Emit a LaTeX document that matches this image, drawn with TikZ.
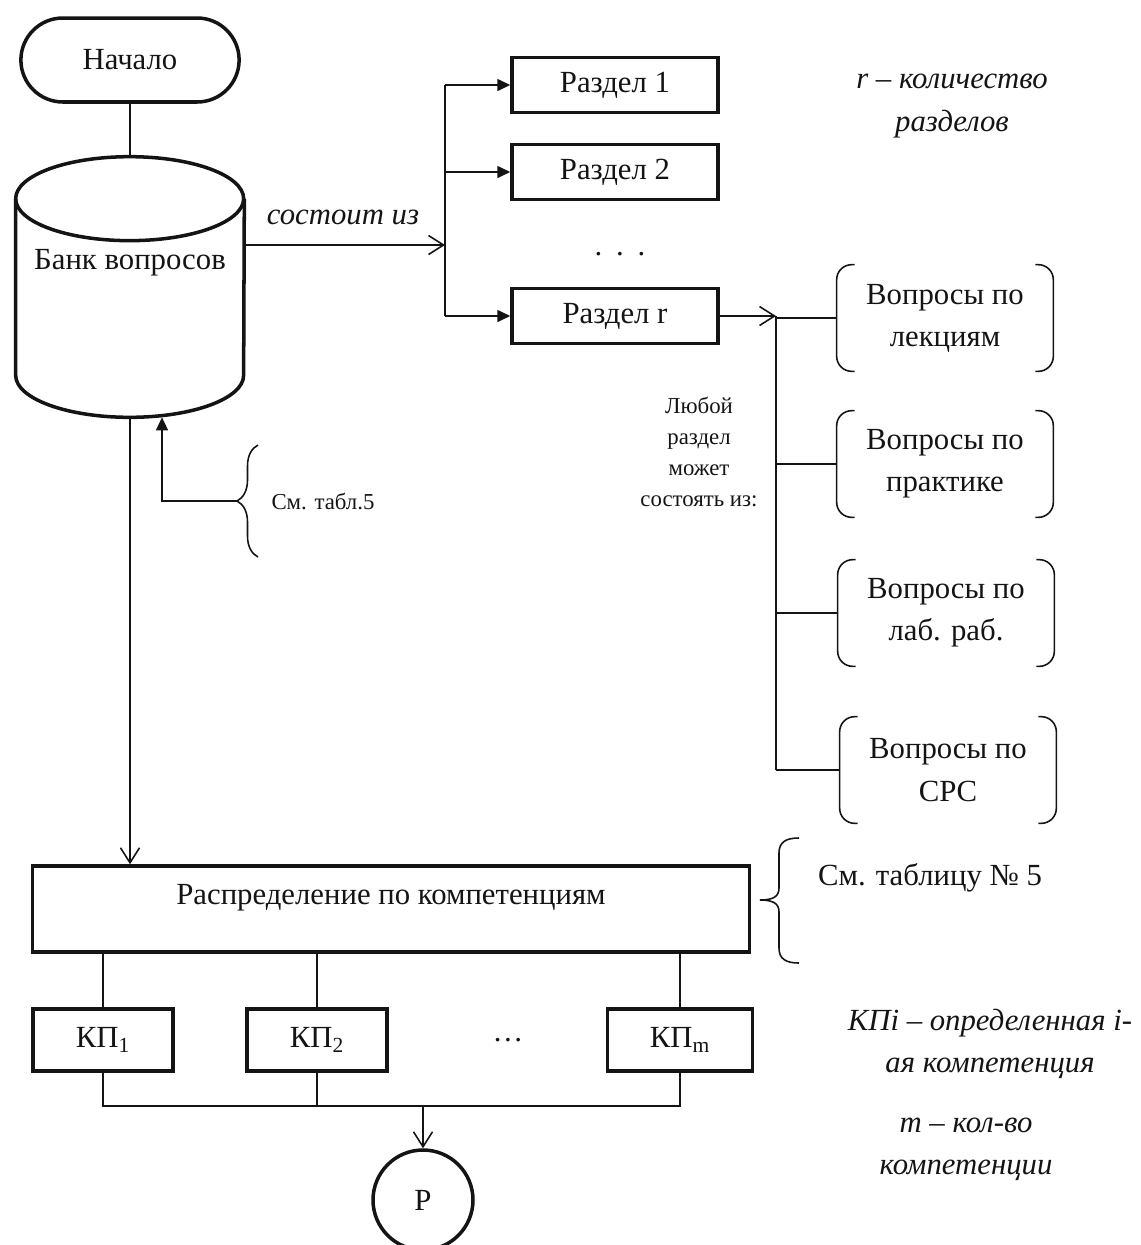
\documentclass[tikz,border=0pt]{standalone}
\usepackage{fontspec}
\setmainfont{Liberation Serif}
\usepackage{xcolor}
\usepackage{tikz}
\usetikzlibrary{arrows.meta,shapes.misc,decorations.pathreplacing,calc}
\definecolor{ink}{HTML}{141414}

\begin{document}
\begin{tikzpicture}[x=0.02cm,y=-0.02cm,
  every node/.style={text=ink,font=\fontsize{17.5}{24}\selectfont},
  thickbox/.style={draw=ink,line width=2pt,rectangle,inner sep=0pt},
  thickline/.style={draw=ink,line width=2pt},
  bracketbox/.style={align=center,minimum width=4.32cm,minimum height=2.12cm,inner sep=0pt},
  wire/.style={draw=ink,line width=0.9pt},
  openarrow/.style={wire,-{Straight Barb[length=0.3cm,width=0.38cm,line width=0.9pt]}},
  fillarrow/.style={wire,-{Triangle[length=0.26cm,width=0.24cm]}},
  smalltext/.style={font=\fontsize{13}{17.6}\selectfont,align=center},
  note/.style={font=\fontsize{17.5}{24}\selectfont\itshape,align=center}]
\useasboundingbox (0,0) rectangle (1141,1245);

% Start and question bank
\node[rounded rectangle,draw=ink,line width=2pt,minimum width=4.6cm,minimum height=1.68cm] (start) at (130,60) {Начало};
\node[minimum width=4.56cm,minimum height=5.2cm,inner sep=0pt] (bank) at (130,287) {};
\draw[thickline] ([yshift=-0.84cm]bank.north west)
  arc[start angle=180,end angle=540,x radius=2.28cm,y radius=0.84cm];
\draw[thickline] ([yshift=-0.84cm]bank.north west) -- ([yshift=0.84cm]bank.south west)
  arc[start angle=180,end angle=360,x radius=2.28cm,y radius=0.84cm] -- ([yshift=-0.84cm]bank.north east);
\node (banktext) at (130,263) {Банк вопросов};
\draw[wire] (start) -- (bank.north);

% Sections
\foreach \name/\y/\txt in {sec1/85/Раздел 1,sec2/172/Раздел 2,secr/316/Раздел r}
  \node[thickbox,minimum width=4.12cm,minimum height=1.1cm] (\name) at (615,\y) {\txt};
\node (secdots) at (620,254) {.\hspace{0.45em}.\hspace{0.45em}.};
\coordinate (bus1top) at (445,85);
\coordinate (bus1bot) at (445,316);
\coordinate (bus1in) at (445,245);
\draw[openarrow] (bank.east |- bus1in) -- (bus1in);
\node[note] (consists) at (343,217) {состоит из};
\draw[wire] (bus1top) -- (bus1bot);
\foreach \name in {sec1,sec2,secr}
  \draw[fillarrow] (\name.west -| bus1top) -- (\name.west);
\node[note] (rnote) at (952,106) {r – количество\\разделов};

% Question kinds of a section
\node[bracketbox] (qlec) at (945,318) {Вопросы по\\лекциям};
\node[bracketbox] (qprac) at (945,464) {Вопросы по\\практике};
\node[bracketbox] (qlab) at (946,613) {Вопросы по\\лаб. раб.};
\node[bracketbox] (qsrs) at (948,770) {Вопросы по\\СРС};
\coordinate (bus2top) at (776,316);
\coordinate (bus2bot) at (776,770);
\draw[openarrow] (secr.east) -- (bus2top);
\draw[wire] (bus2top) -- (bus2bot);
\foreach \q in {qlec,qprac,qlab,qsrs}{
  \draw[wire] (\q.west -| bus2top) -- (\q.west);
  \draw[wire,rounded corners=0.3cm] ([xshift=0.36cm]\q.north west) -- (\q.north west)
    -- (\q.south west) -- ([xshift=0.36cm]\q.south west);
  \draw[wire,rounded corners=0.3cm] ([xshift=-0.36cm]\q.north east) -- (\q.north east)
    -- (\q.south east) -- ([xshift=-0.36cm]\q.south east);
}
\node[smalltext] (anynote) at (699,452) {Любой\\раздел\\может\\состоять из:};

% Table 5 feedback
\draw[wire,decorate,decoration={brace,amplitude=0.42cm}] (258,557) -- (258,445);
\coordinate (tip5) at (237,501);
\draw[fillarrow] (tip5) -| ([xshift=0.64cm]bank.south);
\node[smalltext] (tab5) at (323,501) {См. табл.5};

% Distribution by competences
\node[thickbox,minimum width=14.34cm,minimum height=1.72cm,text height=0.3cm,text depth=0.5cm] (distr) at (391,909) {Распределение по компетенциям};
\draw[openarrow] (bank.south) -- (bank.south |- distr.north);
\draw[wire] (799,838) .. controls (786,838) and (779,842) .. (779,853) -- (779,888)
  .. controls (779,896) and (774,900) .. (760,900) .. controls (774,900) and (779,904) .. (779,912)
  -- (779,948) .. controls (779,959) and (786,963) .. (799,963);
\node (tab5b) at (930,878) {См. таблицу № 5};

% Competences and result
\foreach \name/\x/\w/\sub in {kp1/103/2.8/1,kp2/317/2.8/2,kpm/680/2.9/m}{
  \node[thickbox,minimum width=\w cm,minimum height=1.24cm] (\name) at (\x,1040) {КП\textsubscript{\sub}};
  \draw[wire] (\name.north |- distr.south) -- (\name.north);
}
\node (kpdots) at (508,1040) {\ldots};
\node[circle,draw=ink,line width=2pt,minimum size=2cm,inner sep=0pt] (res) at (423,1200) {Р};
\coordinate (join) at (423,1106);
\draw[wire] (kp1.south) |- (join) -| (kpm.south);
\draw[wire] (kp2.south) -- (kp2.south |- join);
\draw[openarrow] (join) -- (res.north);
\node[note] (kpinote) at (990,1044) {КПi – определенная i-\\ая компетенция};
\node[note] (mnote) at (966,1149) {m – кол-во\\компетенции};
\end{tikzpicture}
\end{document}
